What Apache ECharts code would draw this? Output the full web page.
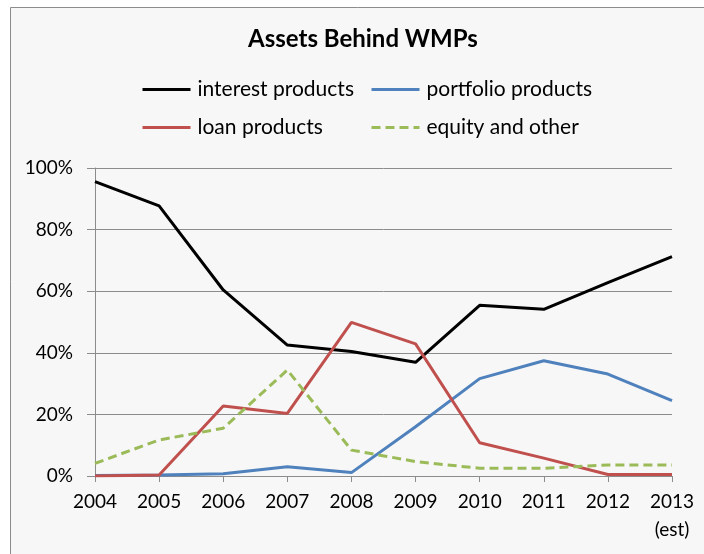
<!DOCTYPE html>
<html>
<head>
<meta charset="utf-8">
<script src="https://cdn.jsdelivr.net/npm/echarts@6/dist/echarts.min.js"></script>
<style>
  html, body { margin: 0; padding: 0; background: #ffffff; }
  #chart { width: 704px; height: 554px; }
</style>
</head>
<body>
<div id="chart"></div>
<script>
// years on the x axis (2013 is an estimate)
const years = ['2004', '2005', '2006', '2007', '2008', '2009', '2010', '2011', '2012', '2013'];
const yTicks = [0, 20, 40, 60, 80, 100];

// share of assets behind WMPs, in percent
const interestProducts = [95.6, 87.7, 60.4, 42.5, 40.4, 36.9, 55.4, 54.1, 62.8, 71.2];
const portfolioProducts = [0.2, 0.3, 0.7, 3.0, 1.1, 16.0, 31.6, 37.4, 33.1, 24.5];
const loanProducts = [0.0, 0.3, 22.7, 20.3, 49.9, 42.9, 10.8, 5.8, 0.5, 0.5];
const equityOther = [4.1, 11.7, 15.5, 34.4, 8.4, 4.7, 2.5, 2.5, 3.6, 3.6];

const FONT = 'Lato, "Open Sans", sans-serif';
const AXIS_GRAY = '#8c8c8c';

const chart = echarts.init(document.getElementById('chart'));

function lineSeries(name, data, color, dashed) {
    return {
        name: name,
        type: 'line',
        data: data,
        symbol: 'none',
        showSymbol: false,
        lineStyle: { color: color, width: 3, type: dashed ? [9, 5] : 'solid' },
        itemStyle: { color: color },
        emphasis: { disabled: true }
    };
}

// one legend per item so the columns line up like the original
function legendItem(name, left, top) {
    return {
        data: [name],
        left: left,
        top: top,
        padding: 0,
        itemWidth: 48,
        itemHeight: 4,
        itemGap: 0,
        selectedMode: false,
        itemStyle: { opacity: 0 },
        lineStyle: { width: 3 },
        textStyle: { fontFamily: FONT, fontSize: 21, color: '#000', padding: [0, 0, 0, 2] }
    };
}

const option = {
    backgroundColor: '#ffffff',
    animation: false,
    graphic: [{
        type: 'rect',
        left: 10, top: 7,
        shape: { width: 720, height: 580 },
        style: { fill: '#f7f7f7', stroke: '#8c8c8c', lineWidth: 1 },
        z: -10
    }],
    title: {
        text: 'Assets Behind WMPs',
        left: 248,
        top: 27,
        padding: 0,
        textStyle: { fontFamily: FONT, fontSize: 24, fontWeight: 'bold', color: '#000' }
    },
    legend: [
        legendItem('interest products', 141, 79),
        legendItem('portfolio products', 370, 79),
        legendItem('loan products', 141, 117),
        legendItem('equity and other', 370, 117)
    ],
    grid: { left: 95, right: 32, top: 168, bottom: 78 },
    xAxis: {
        type: 'category',
        data: years,
        boundaryGap: false,
        axisLine: { lineStyle: { color: AXIS_GRAY } },
        axisTick: { show: true, length: 6, lineStyle: { color: AXIS_GRAY } },
        axisLabel: {
            fontFamily: FONT, fontSize: 19, color: '#000', margin: 12, lineHeight: 28,
            interval: 0,
            formatter: v => v === '2013' ? '2013\n(est)' : v
        }
    },
    yAxis: {
        type: 'value',
        min: yTicks[0],
        max: yTicks[yTicks.length - 1],
        interval: 20,
        axisLine: { show: true, lineStyle: { color: AXIS_GRAY } },
        axisTick: { show: true, length: 8, lineStyle: { color: AXIS_GRAY } },
        splitLine: { lineStyle: { color: AXIS_GRAY, width: 1 } },
        axisLabel: { fontFamily: FONT, fontSize: 19, color: '#000', margin: 22, formatter: '{value}%' }
    },
    series: [
        lineSeries('interest products', interestProducts, '#000000', false),
        lineSeries('portfolio products', portfolioProducts, '#4f81bd', false),
        lineSeries('loan products', loanProducts, '#c0504d', false),
        lineSeries('equity and other', equityOther, '#9bbb59', true)
    ]
};

chart.setOption(option);
</script>
</body>
</html>
